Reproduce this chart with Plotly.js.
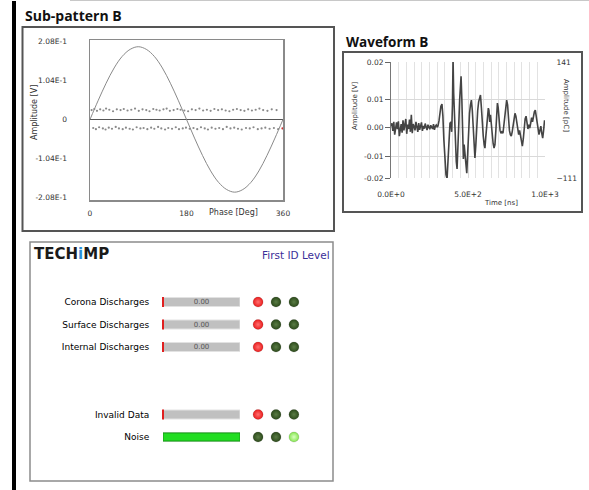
<!DOCTYPE html>
<html><head><meta charset="utf-8">
<script src="https://cdn.plot.ly/plotly-3.0.1.min.js"></script>
<style>html,body{margin:0;padding:0;background:#fff;overflow:hidden}#chart{width:589px;height:490px}</style>
</head><body><div id="chart"></div>
<script>
const W=589,H=490;
const px=x=>x/W, py=y=>1-y/H;

// ---------- Sub-pattern B ----------
const sinePhase=[0,15,30,45,60,75,90,105,120,135,150,165,180,195,210,225,240,255,270,285,300,315,330,345,360];
const sineAmp=[0,0.050,0.097,0.138,0.169,0.188,0.195,0.188,0.169,0.138,0.097,0.050,0,-0.050,-0.097,-0.138,-0.169,-0.188,-0.195,-0.188,-0.169,-0.138,-0.097,-0.050,0];
const posPhase=[3,8,13,19,25,30,36,43,50,57,63,70,77,84,91,98,105,111,118,124,130,137,143,149,156,163,169,176,183,190,197,204,211,218,225,232,239,246,253,260,267,274,281,288,295,302,309,316,323,331,339,348];
const posAmpMilli=[25,28,23,27,24,29,26,22,27,25,28,24,26,29,23,27,25,22,28,26,24,27,29,23,25,28,26,24,22,27,25,29,24,26,23,28,25,27,24,22,26,28,25,23,27,24,26,29,25,23,27,25];
const negPhase=[6,11,17,24,29,35,41,48,54,61,67,74,80,87,94,100,107,114,120,127,133,140,146,153,160,166,173,179,186,193,200,207,214,220,227,234,241,248,255,262,269,276,283,291,298,305,313,320,327,335,343,351,359];
const negAmpMilli=[-23,-26,-21,-24,-27,-22,-25,-20,-24,-26,-22,-25,-27,-21,-24,-23,-26,-22,-25,-20,-24,-27,-23,-25,-21,-26,-24,-22,-25,-23,-26,-21,-24,-27,-22,-25,-23,-26,-20,-24,-22,-25,-27,-23,-24,-21,-26,-24,-22,-25,-23,-26,-24];
const subYTicks=[-0.208,-0.104,0,0.104,0.208];
const subYText=["-2.08E-1","-1.04E-1","0","1.04E-1","2.08E-1"];
const subXTicks=[0,180,360];

// ---------- Waveform B ----------
const waveTime=[0,6,12,18,24,30,36,42,48,54,60,66,72,78,84,90,96,102,108,114,120,126,132,138,144,150,156,162,168,174,180,186,192,198,204,210,216,222,228,234,240,246,252,258,264,270,276,282,288,294,300,
305,312,318,324,331,337,343,350,357,364,370,377,383,389,394,399,403,407,412,418,424,429,434,440,446,451,455,460,465,470,475,480,486,492,498,504,510,516,522,528,534,540,545,551,557,563,569,575,581,587,593,599,605,610,616,622,628,632,636,641,646,651,657,663,669,675,681,686,691,696,702,708,714,720,727,733,739,745,751,757,763,769,775,781,787,793,799,805,811,817,823,829,835,841,847,853,859,865,871,877,883,889,895,901,907,913,919,925,931,937,943,949,955,961,967,973,979,985,991,997,1000];
const waveMilliV=[0.5,1.5,-1.2,2.0,-2.5,0.8,1.8,-0.6,2.2,-3.0,0.3,1.2,-1.8,2.5,-1.0,0.6,3.0,-2.2,1.0,-0.5,2.8,-1.5,4.5,-2.0,1.2,0.4,-1.0,2.0,0.2,-1.5,1.6,-0.8,0.5,1.8,-1.2,0.6,-0.4,1.4,0.2,-0.9,1.0,0.3,-0.6,0.8,0.1,-0.5,1.2,-0.8,0.4,0.9,0.3,
0.5,2.5,5.5,7.5,8.2,4.0,-4.0,-11,-16.5,-18.0,-11,-3,1.5,2.0,-1.5,8,24,12,3,-6,-12,-14.5,-9,1,10,16.5,18.0,10,-3,-11,-6,-9,-14,-16,-9,-1,5,8,9.6,6,-2,-8,-10.7,-6,1,6,9,10,11.4,7,1,-3,-6,-7.2,-3,2,5,6.8,6.0,2,4.5,1,-3,-5.5,-7.2,-6,-1,4,8.6,7,2,-1,-2,-1.5,-2.0,1,5,7.5,9.6,8,3,-1,-2.5,-3,-1.5,1,3.5,5,4,1.5,-1,-2.5,-1,-3.5,-5.5,-6.5,-4,0,3,4,2,-0.5,1,-0.2,1.5,3.5,2,4,5.5,6.1,4,1,-1,-2.5,-1,0.5,-2,-3.7,-1,2.5,2];
const waveYTicks=[-0.0177,-0.01,0,0.01,0.023];
const waveYText=["-0.02","-0.01","0.00","0.01","0.02"];
const waveChargeTicks=[-111,141];
const waveXTicks=[0,500,1000];
const waveXText=["0.0E+0","5.0E+2","1.0E+3"];

// ---------- Indicator panel ----------
const rowOrder=["Corona Discharges","Surface Discharges","Internal Discharges"," ","  ","Invalid Data","Noise"];
const rowNames=["Corona Discharges","Surface Discharges","Internal Discharges","Invalid Data","Noise"];
const rowMax=[1,1,1,1,1];
const rowLevel=[0,0,0,0,1];
const rowText=["0.00","0.00","0.00","",""];
const ledStates=[[2,0,0],[2,0,0],[2,0,0],[2,0,0],[0,0,1]]; // 0 dark green, 1 light green, 2 red

const ledColor=["#2c4a1b","#86e651","#ea1c1c"];
const ledHi=["#5a7c45","#d8ffc0","#ff7070"];
const ledX=[],ledY=[],ledC=[],ledG=[];
rowNames.forEach((r,i)=>ledStates[i].forEach((s,j)=>{ledX.push(j);ledY.push(r);ledC.push(ledColor[s]);ledG.push(ledHi[s]);}));
const needleY=rowNames.filter((r,i)=>rowLevel[i]<1);
const needleX=rowLevel.filter(v=>v<1);

const F='DejaVu Sans';
const data=[
 {type:'scatter',mode:'lines',x:sinePhase,y:sineAmp,line:{color:'#8a8a8a',width:1,shape:'spline'},xaxis:'x',yaxis:'y',hoverinfo:'skip'},
 {type:'scatter',mode:'markers',x:posPhase,y:posAmpMilli.map(v=>v/1000),marker:{color:'#8a8a8a',size:2.2},xaxis:'x',yaxis:'y',hoverinfo:'skip'},
 {type:'scatter',mode:'markers',x:negPhase,y:negAmpMilli.map(v=>v/1000),marker:{color:negPhase.map((p,i)=>i===negPhase.length-1?'#c33':'#8a8a8a'),size:2.2},xaxis:'x',yaxis:'y',hoverinfo:'skip'},
 {type:'scatter',mode:'lines',x:waveTime,y:waveMilliV.map(v=>v/1000),line:{color:'#444',width:1.6},xaxis:'x2',yaxis:'y2',hoverinfo:'skip'},
 {type:'scatter',mode:'markers',x:[0,1000],y:waveChargeTicks,marker:{opacity:0},xaxis:'x2',yaxis:'y3',hoverinfo:'skip'},
 {type:'bar',orientation:'h',x:rowMax,y:rowNames,width:0.4,marker:{color:'#c0c0c0',line:{color:'#e2e2e2',width:1}},text:rowText,textposition:'inside',insidetextanchor:'middle',constraintext:'none',textfont:{family:F,size:7,color:'#555'},xaxis:'x3',yaxis:'y4',hoverinfo:'skip'},
 {type:'bar',orientation:'h',x:rowLevel,y:rowNames,width:0.36,marker:{color:'#22dd22',line:{color:'#159a15',width:1}},xaxis:'x3',yaxis:'y4',hoverinfo:'skip'},
 {type:'scatter',mode:'markers',x:needleX,y:needleY,marker:{symbol:'line-ns',size:7,line:{color:'#e02020',width:2}},cliponaxis:false,xaxis:'x3',yaxis:'y4',hoverinfo:'skip'},
 {type:'scatter',mode:'markers',x:ledX,y:ledY,marker:{size:10,color:ledC,gradient:{type:'radial',color:ledG},line:{color:'rgba(0,0,0,0.25)',width:0.5}},cliponaxis:false,xaxis:'x4',yaxis:'y4',hoverinfo:'skip'}
];

const tf=(s)=>({family:F,size:s,color:'#333'});
const layout={
 width:W,height:H,margin:{l:0,r:0,t:0,b:0},paper_bgcolor:'#fff',plot_bgcolor:'#fff',showlegend:false,barmode:'overlay',
 xaxis:{domain:[px(90),px(283)],range:[0,360],anchor:'y',tickvals:subXTicks,ticks:'outside',ticklen:5,tickcolor:'rgba(0,0,0,0)',showline:true,mirror:true,linecolor:'#8a8a8a',linewidth:1.5,showgrid:false,zeroline:false,tickfont:tf(7.5)},
 yaxis:{domain:[py(200),py(40)],range:[-0.216,0.213],anchor:'x',tickvals:subYTicks,ticktext:subYText,ticks:'outside',ticklen:20,tickcolor:'rgba(0,0,0,0)',showline:true,mirror:true,linecolor:'#8a8a8a',linewidth:1.5,showgrid:false,zeroline:true,zerolinecolor:'#555',zerolinewidth:1.5,tickfont:tf(7.5)},
 xaxis2:{domain:[px(391),px(545)],range:[0,1000],anchor:'y2',tickvals:waveXTicks,ticktext:waveXText,ticks:'outside',ticklen:9,tickcolor:'rgba(0,0,0,0)',showgrid:true,gridcolor:'#d9d9d9',minor:{dtick:50,showgrid:true,gridcolor:'#e2e2e2'},zeroline:false,showline:false,tickfont:tf(7.5)},
 yaxis2:{domain:[py(178),py(62)],range:[-0.0177,0.023],anchor:'x2',tickvals:waveYTicks,ticktext:waveYText,ticks:'outside',ticklen:5,tickcolor:'#666',showline:true,linecolor:'#777',linewidth:1,showgrid:true,gridcolor:'#d9d9d9',zeroline:false,tickfont:tf(7.5)},
 yaxis3:{overlaying:'y2',side:'right',anchor:'x2',range:[-111,141],tickvals:waveChargeTicks,ticks:'outside',ticklen:9,tickcolor:'rgba(0,0,0,0)',showgrid:false,zeroline:false,showline:false,tickfont:tf(7.5)},
 xaxis3:{domain:[px(163),px(240)],range:[0,1],anchor:'y4',visible:false},
 yaxis4:{domain:[py(448.25),py(290.75)],type:'category',categoryorder:'array',categoryarray:rowOrder,range:[6.5,-0.5],anchor:'x3',ticks:'outside',ticklen:11,tickcolor:'rgba(0,0,0,0)',showline:false,showgrid:false,zeroline:false,tickfont:{family:F,size:9,color:'#000'}},
 xaxis4:{domain:[px(250),px(302)],range:[-0.45,2.45],anchor:'y4',visible:false},
 shapes:[
  {type:'rect',xref:'paper',yref:'paper',x0:px(12),x1:px(16),y0:py(490),y1:py(1),fillcolor:'#000',line:{width:0}},
  {type:'line',xref:'paper',yref:'paper',x0:px(70),x1:px(589),y0:py(0.5),y1:py(0.5),line:{color:'#c8c8c8',width:1}},
  {type:'rect',xref:'paper',yref:'paper',x0:px(22.5),x1:px(334),y0:py(231),y1:py(27),line:{color:'#555',width:2}},
  {type:'rect',xref:'paper',yref:'paper',x0:px(343),x1:px(582),y0:py(212),y1:py(52),line:{color:'#555',width:2}},
  {type:'rect',xref:'paper',yref:'paper',x0:px(30),x1:px(333),y0:py(481),y1:py(242),line:{color:'#8c8c8c',width:1.5}}
 ],
 annotations:[
  {text:'<b>Sub-pattern B</b>',xref:'paper',yref:'paper',x:px(23),y:py(15),xanchor:'left',yanchor:'middle',showarrow:false,font:{family:'Open Sans',size:14,color:'#111'}},
  {text:'<b>Waveform B</b>',xref:'paper',yref:'paper',x:px(344),y:py(42),xanchor:'left',yanchor:'middle',showarrow:false,font:{family:'Open Sans',size:13.5,color:'#111'}},
  {text:'Phase [Deg]',xref:'paper',yref:'paper',x:px(233),y:py(212),xanchor:'center',yanchor:'middle',showarrow:false,font:tf(8)},
  {text:'Amplitude [V]',xref:'paper',yref:'paper',x:px(34),y:py(113),textangle:-90,xanchor:'center',yanchor:'middle',showarrow:false,font:tf(8)},
  {text:'Amplitude [V]',xref:'paper',yref:'paper',x:px(355),y:py(106),textangle:-90,xanchor:'center',yanchor:'middle',showarrow:false,font:tf(7)},
  {text:'Amplitude [pC]',xref:'paper',yref:'paper',x:px(566),y:py(105),textangle:90,xanchor:'center',yanchor:'middle',showarrow:false,font:tf(7)},
  {text:'Time [ns]',xref:'paper',yref:'paper',x:px(501),y:py(203),xanchor:'center',yanchor:'middle',showarrow:false,font:tf(7)},
  {text:"<b>TECH<span style='color:#2a8fd8'>i</span>MP</b>",xref:'paper',yref:'paper',x:px(32),y:py(254),xanchor:'left',yanchor:'middle',showarrow:false,font:{family:F,size:15,color:'#1a1a1a'}},
  {text:'First ID Level',xref:'paper',yref:'paper',x:px(332),y:py(255),xanchor:'right',yanchor:'middle',showarrow:false,font:{family:F,size:10.5,color:'#3a2e98'}}
 ]
};
Plotly.newPlot('chart',data,layout,{staticPlot:true,displayModeBar:false});
</script></body></html>
